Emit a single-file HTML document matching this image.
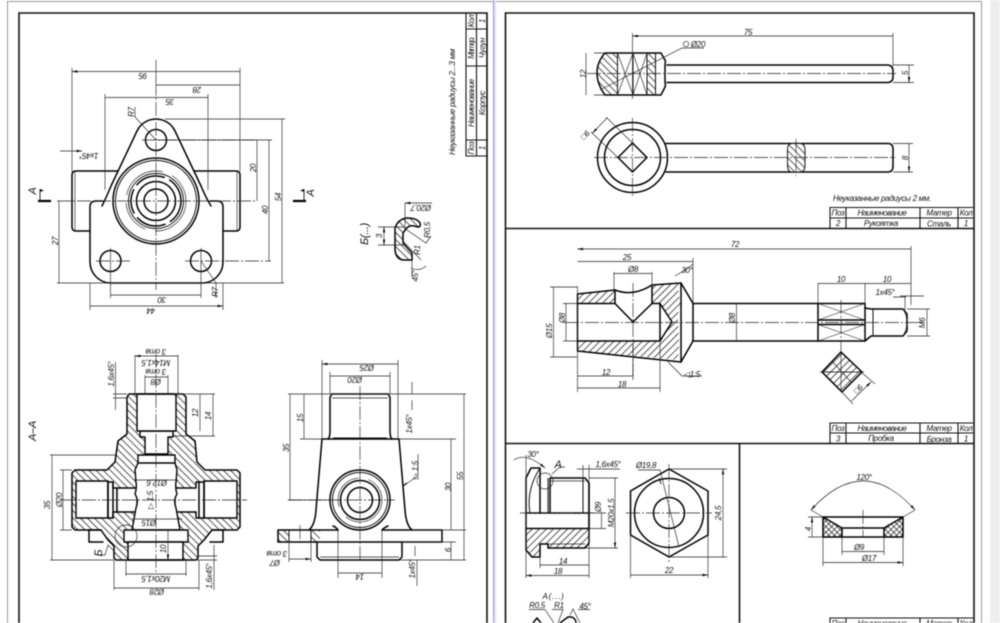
<!DOCTYPE html>
<html><head><meta charset="utf-8"><title>Чертежи</title>
<style>
html,body{margin:0;padding:0;width:1000px;height:623px;overflow:hidden;background:#fff}
svg{display:block;filter:blur(.4px)}
text{font-family:"Liberation Sans","DejaVu Sans",sans-serif;font-style:italic;font-size:8px;fill:#111;text-anchor:middle;letter-spacing:-.3px}
.k{fill:none;stroke:#000;stroke-width:1.5;stroke-linejoin:round;stroke-linecap:round}
.m{fill:none;stroke:#111;stroke-width:1}
.t{fill:none;stroke:#222;stroke-width:.65}
.d{fill:none;stroke:#222;stroke-width:.65;marker-start:url(#a);marker-end:url(#a)}
.c{fill:none;stroke:#222;stroke-width:.65;stroke-dasharray:14 2 2 2}
.h1{fill:url(#h1);stroke:none}
.h2{fill:url(#h2);stroke:none}
.w{fill:#fff;stroke:#000;stroke-width:1.4;stroke-linejoin:round}
.lg{font-size:11px}
</style></head><body>
<svg width="1000" height="623" viewBox="0 0 1000 623" xmlns="http://www.w3.org/2000/svg">
<defs>
<marker id="a" markerWidth="6" markerHeight="4" refX="5.5" refY="2" orient="auto-start-reverse" markerUnits="userSpaceOnUse"><path d="M0,.8L6,2L0,3.2z" fill="#111"/></marker>
<pattern id="h1" width="5" height="5" patternUnits="userSpaceOnUse" patternTransform="rotate(-45)"><rect width="5" height="5" fill="#fff"/><rect width=".75" height="5" fill="#222"/></pattern>
<pattern id="h2" width="5" height="5" patternUnits="userSpaceOnUse" patternTransform="rotate(45)"><rect width="5" height="5" fill="#fff"/><rect width=".75" height="5" fill="#222"/></pattern>
<pattern id="x" width="4" height="4" patternUnits="userSpaceOnUse" patternTransform="rotate(45)"><rect width="4" height="4" fill="#fff"/><rect width=".7" height="4" fill="#222"/><rect width="4" height=".7" fill="#222"/></pattern>
</defs>

<!-- page chrome -->
<rect x="990" y="0" width="10" height="623" fill="#eee"/>
<path d="M7.5,623V1.5H493M493,1.5H981.5V623" fill="none" stroke="#999" stroke-width="1"/>
<rect x="493" y="0" width="1.2" height="623" fill="#8f96e6"/>
<rect x="494.2" y="0" width="2" height="623" fill="#e4e6fa"/>

<!-- LEFT SHEET -->
<path d="M19,623V13H487V623" fill="none" stroke="#111" stroke-width="1.6"/>
<path d="M466,13V156H487M476.5,13V156M466,29H487M466,66H487M466,140H487" fill="none" stroke="#111" stroke-width="1.1"/>
<g>
<text transform="translate(474,148) rotate(-90)">Поз</text>
<text transform="translate(474,103) rotate(-90)" textLength="48">Наименование</text>
<text transform="translate(474,48) rotate(-90)" textLength="22">Матер.</text>
<text transform="translate(474,21) rotate(-90)">Кол</text>
<text transform="translate(485,148) rotate(-90)">1</text>
<text transform="translate(485,103) rotate(-90)">Корпус</text>
<text transform="translate(485,48) rotate(-90)">Чугун</text>
<text transform="translate(485,21) rotate(-90)">1</text>
<text transform="translate(455,102) rotate(-90)" textLength="106" lengthAdjust="spacing">Неуказанные радиусы 2...3 мм</text>
</g>

<!-- top view -->
<g>
<path class="k" d="M103,201H96Q90,201 90,207V262A21,21 0 0 0 111,283H202A21,21 0 0 0 223,262V207Q223,201 217,201H210"/>
<path class="k" d="M102,206Q106,198 111,186L137,131A21,21 0 0 1 175,131L201,186Q206,198 211,206"/>
<path class="k" d="M118,171H76Q72,171 72,175V227Q72,231 76,231H90M194,171H236Q240,171 240,175V227Q240,231 236,231H223"/>
<path class="t" d="M75,172V230M237,172V230"/>
<circle class="k" cx="156" cy="201" r="43"/>
<circle class="m" cx="156" cy="201" r="40.5" stroke-width="1.2"/>
<circle class="t" cx="156" cy="201" r="30" stroke-dasharray="48 10 34 8"/>
<circle class="m" cx="156" cy="201" r="27.5"/>
<circle class="k" cx="156" cy="201" r="25" stroke-dasharray="24 6 30 6"/>
<circle class="k" cx="156" cy="201" r="19.5" stroke-width="1.2"/>
<circle class="k" cx="156" cy="201" r="12"/>
<circle class="k" cx="156" cy="140" r="10.5"/>
<circle class="k" cx="110.5" cy="261" r="10.5"/>
<circle class="k" cx="201" cy="261" r="10.5"/>
<path class="c" d="M57,201H255M156,82V290M142,140H255M96,261H130M185,261H271"/>
<path class="t" d="M110.5,248V298M201,248V298M72,172V68M240,171V68M105,190V94M208,190V94M156,82V60M90,283V310M223,283V310M57,283H284M165,119H285M156,140H272"/>
<path class="d" d="M72,71.5H240M156,85H240M105,97.5H208M282,119V283M269,140V261M257,140V201M59,201V283M110.5,295H201M90,306H223"/>
<path class="t" d="M60,151H72M72,151H82" marker-end="url(#a)"/>
<path class="t" d="M135,107V117L156,140M201,261L216,283V298"/>
<text transform="rotate(180 143 73)" x="143" y="73">95</text>
<text transform="rotate(180 197 87)" x="197" y="87">28</text>
<text transform="rotate(180 170 99)" x="170" y="99">35</text>
<text transform="rotate(180 89 153)" x="89" y="153">1х45°</text>
<text transform="rotate(180 162 297)" x="162" y="297">30</text>
<text transform="rotate(180 151 308)" x="151" y="308">44</text>
<text transform="translate(134,112) rotate(-90)">R7</text>
<text transform="translate(218,292) rotate(-90)">R7</text>
<text transform="translate(256,168) rotate(-90)">20</text>
<text transform="translate(268,210) rotate(-90)">40</text>
<text transform="translate(281,197) rotate(-90)">54</text>
<text transform="translate(58,241) rotate(-90)">27</text>
<path d="M38,201H51M293,201H306" stroke="#000" stroke-width="2.2" fill="none"/>
<path d="M40,201V189M304,201V189" fill="none" stroke="#111" stroke-width=".9"/>
<path d="M40,189l4,1.5l-4,1.5zM304,189l-4,1.5l4,1.5z" fill="#111"/>
<text class="lg" transform="translate(36,191) rotate(-90)">А</text>
<text class="lg" transform="translate(314,193) rotate(-90)">А</text>
</g>

<!-- Detail B -->
<g>
<path class="h1" d="M395,228Q398,219 407,218Q417,218 420,223Q421,227 418,227L414,226Q409,225 406,229L403,233V243L412,253V260H403Q396,259 395,250Z"/>
<path class="k" d="M395,228Q398,219 407,218Q417,218 420,223Q421,227 418,227L414,226Q409,225 406,229L403,233V243L412,253V260H403Q396,259 395,250Z"/>
<path class="t" d="M404,227H378M404,245H378M405,227V203M412,260V277M404,228L426,243L431,236M403,241L421,260M411,268Q419,272 426,266"/>
<path class="d" d="M384,227V245"/>
<path class="t" d="M405,203H432" marker-start="url(#a)"/>
<text class="lg" transform="translate(368,234) rotate(-90)" textLength="22">Б(...)</text>
<text transform="translate(382,236) rotate(-90)">3</text>
<text transform="rotate(180 421 205)" x="421" y="205">Ø20,7</text>
<text transform="translate(430,230) rotate(-90)">R0,5</text>
<text transform="translate(420,250) rotate(-90)">R1</text>
<text transform="translate(418,276) rotate(-90)">45°</text>
</g>

<!-- Section A-A -->
<g>
<path class="h1" d="M129,394H183L186,397V434L195,441L197,462L205,470H237L240,473V527L237,530H212L204,540L198,546V558L196,560H116L114,558V546L108,540L101,530H75L72,527V473L75,470H107L115,462L118,441L127,434V397Z"/>
<path class="w" d="M140,431H173V437H168V454H145V437H140Z"/>
<path class="w" d="M137,394H175L176,396V431H137V396Z"/>
<path class="w" d="M76,481H108V518H76Z"/>
<path class="w" d="M108,482H113V488H117V512H113V518H108Z" />
<path class="w" d="M117,488H137V512H117Z"/>
<path class="w" d="M204,481H237V518H204Z"/>
<path class="w" d="M196,482H204V518H196V512H175V488H196Z"/>
<path class="w" d="M138,455H175V463L177,470L176,482Q175,488 177,494Q173,500 176,508L180,530H132L136,508Q139,500 135,494Q137,488 136,482L135,470L138,463Z"/>
<path class="w" d="M124,530H188V542H124Z"/>
<path class="w" d="M128,542H183V560H128Z"/>
<path class="k" d="M129,394H183L186,397V434L195,441L197,462L205,470H237L240,473V527L237,530H212L204,540L198,546V558L196,560H116L114,558V546L108,540L101,530H75L72,527V473L75,470H107L115,462L118,441L127,434V397Z"/>
<path class="k" d="M89,530V542H103M223,530V542H210M224,530H212M88,530H101M138,463H175M108,482V518M113,482V518M199,482V518M204,482V518"/>
<circle class="t" cx="126" cy="536" r="11"/>
<path class="c" d="M156,354V572M62,500H247"/>
<path class="t" d="M135,395V355M178,395V355M145,395V375M168,395V375M174,394H215M174,436H215M113,394H127M113,398H127M115.5,362V410M116,455H50M72,470H60M72,530H60M50,560H114M114,560V590M199,560V590M126,560V576M186,560V576M197,556H217M197,560H217M214,545V590M115,552L108,545L105,555H100"/>
<path class="d" d="M135,356H178M145,377H168M52,455V560M63,470V530M200,394V431M213,394V436M126,574H186M114,588H199M134,480H178M132,519H182M168,530V560"/>
<text transform="rotate(180 156 349)" x="156" y="349" font-size="7">3 отв</text>
<text transform="rotate(180 156 360)" x="156" y="360">М14х1,5</text>
<text transform="rotate(180 156 369)" x="156" y="369" font-size="7">3 отв</text>
<text transform="rotate(180 156 379)" x="156" y="379">Ø8</text>
<text transform="translate(114,374) rotate(-90)">1,6х45°</text>
<text transform="translate(198,413) rotate(-90)">12</text>
<text transform="translate(211,416) rotate(-90)">14</text>
<text class="lg" transform="translate(36,431) rotate(-90)" textLength="20">А–А</text>
<text transform="translate(50,505) rotate(-90)">35</text>
<text transform="translate(62,500) rotate(-90)">Ø20</text>
<text transform="rotate(180 157 480)" x="157" y="480">Ø12,6</text>
<text transform="rotate(180 149 520)" x="149" y="520">Ø15</text>
<text transform="translate(153,500) rotate(-90)">▷ 1:5</text>
<text class="lg" transform="translate(102,553) rotate(-90)">Б</text>
<text transform="translate(166,549) rotate(-90)">10</text>
<text transform="rotate(180 156 576)" x="156" y="576">М20х1,5</text>
<text transform="rotate(180 157 589)" x="157" y="589">Ø28</text>
<text transform="translate(212,576) rotate(-90)">1,6х45°</text>
</g>

<!-- Side elevation -->
<g>
<path class="k" d="M332,394H388L390,397V431Q390,437 392,439M330,397L332,394M330,397V431Q330,437 328,439"/>
<path class="k" d="M322,439H399L405,510Q406,525 412,530M322,439L316,510Q315,525 309,530"/>
<path class="h1" d="M278,530H289V542H278ZM311,530H320V542H311Z"/>
<path class="k" d="M278,530H338M382,530H442V542H278V530M317,542V557L320,560H399L402,557V542"/>
<path class="m" d="M289,530V542M311,530V542M333,438H387"/>
<path class="t" d="M332,398H388M320,557H399"/>
<path class="k" d="M338,530Q336,527 333,526M382,530Q385,527 388,526"/>
<circle cx="360" cy="500" r="30" fill="#fff" stroke="#000" stroke-width="1.5"/>
<circle class="m" cx="360" cy="500" r="27.5"/>
<circle class="t" cx="360" cy="500" r="22" stroke-dasharray="50 12 40 10"/>
<circle class="k" cx="360" cy="500" r="19.5" stroke-width="1.1"/>
<circle class="k" cx="360" cy="500" r="12.5"/>
<path class="c" d="M360,386V560M288,500H395"/>
<path class="c" d="M300,525V545"/>
<path class="t" d="M322,439V360M398,439V360M330,394V372M390,394V372M288,394H466M300,439H322M399,439H456M288,500H330M412,530H466M400,560H466M402,542H456M338,530V578M382,530V578M289,542V562M311,542V562M412,382V394M412,400V410M417,560V586M415,546V556"/>
<path class="d" d="M322,364H398M330,376H390M304,394V439M290,394V500M451,439V530M464,394V560M451,542V560M338,573H382M289,559H311"/>
<path class="t" d="M403,486L418,476V454"/>
<path d="M403,486l4,-3" stroke="#111" stroke-width="1.3"/>
<text transform="rotate(180 367 365)" x="367" y="365">Ø25</text>
<text transform="rotate(180 355 377)" x="355" y="377">Ø20</text>
<text transform="translate(303,418) rotate(-90)">15</text>
<text transform="translate(289,448) rotate(-90)">35</text>
<text transform="translate(451,487) rotate(-90)">30</text>
<text transform="translate(463,476) rotate(-90)">55</text>
<text transform="translate(451,550) rotate(-90)">6</text>
<text transform="rotate(180 360 574)" x="360" y="574">14</text>
<text transform="translate(412,424) rotate(-90)">1х45°</text>
<text transform="translate(415,569) rotate(-90)">1х45°</text>
<text transform="translate(418,470) rotate(-90)">▷ 1:5</text>
<text transform="rotate(180 275 560)" x="275" y="560">Ø7</text>
<text font-size="7" transform="rotate(180 277 551)" x="277" y="551">3 отв</text>
</g>

<!-- RIGHT SHEET -->
<path d="M505.5,623V13H974V623M505.5,228.5H974M505.5,443.5H974M739.5,443.5V623" fill="none" stroke="#111" stroke-width="1.6"/>

<!-- Handle side -->
<g>
<path class="h1" d="M605,53H617.5V95H605Q597,84 597,73Q597,62 605,53Z"/>
<path class="h1" d="M647,53H655.5V95H647Z"/>
<path class="k" d="M605,53H661L665.5,61Q665,63 665,66V81Q665,84 665.5,86L661,95H605Q597,84 597,73Q597,62 605,53Z"/>
<path class="k" d="M667,65H887Q893,65 893,71V77Q893,82.5 887,82.5H667"/>
<path class="m" d="M617.5,53V95M647,53V95M655.5,53V95"/>
<path class="m" d="M633,53V95"/>
<path class="t" d="M617.5,53L633,95M633,53L617.5,95M633,53L647,95M647,53L633,95"/>
<path class="c" d="M587,73.5H896"/>
<path class="t" d="M632.5,99V33M893,66V33M594,53H605M594,95H605M893,65H914M893,82.5H914M600,90L682,48H704"/>
<path class="d" d="M632.5,36H893M586,53V95M909,65V82.5"/>
<text x="748" y="35">75</text>
<circle class="t" cx="686" cy="44" r="2.7"/>
<text x="698" y="47">Ø20</text>
<text transform="translate(586,74) rotate(-90)">12</text>
<text transform="translate(908,73) rotate(-90)">5</text>
</g>
<!-- Handle plan -->
<g>
<circle class="k" cx="632.5" cy="157.5" r="35"/>
<circle class="k" cx="632.5" cy="157.5" r="28"/>
<path class="k" d="M632.5,143L647,157.5L632.5,172L618,157.5Z"/>
<path class="k" d="M666,143.5H888Q893,143.5 893,149V166Q893,172 888,172H666"/>
<path class="h1" d="M792,143.5H800Q805,143.5 805,150V165Q805,172 800,172H792Q787.5,172 787.5,165V150Q787.5,143.5 792,143.5Z"/>
<path class="m" d="M792,143.5H800Q805,143.5 805,150V165Q805,172 800,172H792Q787.5,172 787.5,165V150Q787.5,143.5 792,143.5Z"/>
<path class="c" d="M594,157.5H895M632.5,118V197M796,139V176"/>
<path class="t" d="M618,157.5L591,132M632.5,143L606,117M893,143.5H913M893,172H913"/>
<path class="d" d="M592.5,133L607,118M909,143.5V172"/>
<text transform="translate(587,137) rotate(-45)">□6</text>
<text transform="translate(908,158) rotate(-90)">8</text>
<text x="882" y="201" textLength="98" font-size="8.5">Неуказанные радиусы 2 мм.</text>
<path d="M830,228V207.5H973M830,218H973M846,207.5V228M920,207.5V228M958,207.5V228" fill="none" stroke="#111" stroke-width="1.1"/>
<text x="838" y="215.5">Поз</text><text x="882" y="215.5" textLength="49">Наименование</text><text x="939" y="215.5">Матер</text><text x="966" y="215.5">Кол</text>
<text x="838" y="226">2</text><text x="881" y="226">Рукоятка</text><text x="939" y="226.5">Сталь</text><text x="966" y="226">1</text>
</g>

<!-- Plug -->
<g>
<path class="h2" d="M577.5,294L615,290V303.5H577.5Z"/>
<path class="h2" d="M652,285L678,283Q678,296 681,303Q677,312 678,325Q680,345 678,360L577.5,351V341H660L672,322L660,303H652Z"/>
<path class="k" d="M577.5,294L615,290Q633,297 652,285L681,283L693,303.5V341L681,362L577.5,351V294Z"/>
<path class="k" d="M577.5,303.5H615L633,322L652,303.5H660L672,322L660,341H577.5M615,290V303.5M652,285V303.5M660,303.5V341M681,283V362"/>
<path class="k" d="M693,303.5H818M693,341H818"/>
<path class="k" d="M818,303.5H865V341H818ZM818,320H865M818,324.5H865"/>
<path class="t" d="M818,303.5L865,320M865,303.5L818,320M818,324.5L865,341M865,324.5L818,341"/>
<path class="k" d="M865,308L871,309H903L907,314V331L903,336H871L865,341" stroke-width="1.2"/>
<path class="m" d="M873,309V336"/>
<path class="t" d="M903,309Q911,322 903,336"/>
<path class="c" d="M565,322.5H925M633,283V376M841,300V352"/>
<path d="M841,352L862,372L842,392L822,372Z" class="h2"/>
<path class="k" d="M841,352L862,372L842,392L822,372Z"/>
<path class="t" d="M822,372H862M841,352V392M832,361L851,382"/>
<path class="c" d="M820,372H864"/>
<path class="t" d="M577.5,286V392M693,258V303M911,246V305M818,283V303M865,283V303M614,272V292M652,272V286M660,341V392M633,345V380M550,287H577M550,357H577M563,303.5H577M563,341H577M905,296V310M900,296H924M893,297H906M907,309H930M907,336H930M861,372L875,384M842,392L853,404"/>
<path class="d" d="M577.5,249H911M577.5,261.5H693M614,273.5H652M553.5,287V357M566,303.5V341M736.5,303.5V341M818,283.5H865M865,283.5H911M577.5,376H633M577.5,388H660M927,309V336M851.5,401L871,382"/>
<path class="t" d="M675,276Q687,269 693,264M668,362L682,376H702"/>
<text x="735" y="247">72</text>
<text x="627" y="260">25</text>
<text x="633" y="272">Ø8</text>
<text x="687" y="273">30°</text>
<text x="841" y="282">10</text>
<text x="887" y="282">10</text>
<text x="885" y="295">1х45°</text>
<text transform="translate(552,331) rotate(-90)">Ø15</text>
<text transform="translate(565,318) rotate(-90)">Ø8</text>
<text transform="translate(735,318) rotate(-90)">Ø8</text>
<text transform="translate(925,323) rotate(-90)">М6</text>
<text x="606" y="375">12</text>
<text x="622" y="387">18</text>
<text x="692" y="377" font-size="8.5">◁1:5</text>
<text transform="translate(860,391) rotate(-45)">□6</text>
<path d="M830,443V423H973M830,433H973M846,423V443M920,423V443M958,423V443" fill="none" stroke="#111" stroke-width="1.1"/>
<text x="838" y="431">Поз</text><text x="882" y="431" textLength="49">Наименование</text><text x="939" y="431">Матер</text><text x="966" y="431">Кол</text>
<text x="838" y="441.5">3</text><text x="881" y="441">Пробка</text><text x="939" y="442">Бронза</text><text x="966" y="441.5">1</text>
</g>

<!-- Nut -->
<g>
<path class="h2" d="M526,528.5H589V543L585,548H548V544H540V557H532L526,550Z"/>
<path class="k" d="M526,478L531,468H540V513M526,478V550L532,557H540V544H548V548H585L589,543V483L585,478H550V513M526,513V528.5"/>
<path class="k" d="M526,528.5H589M589,483V528.5M526,513H589" stroke-width="1"/>
<path class="m" d="M583,478V513M540,468Q526,490 530,513M548,478V513"/>
<path class="t" d="M550,481H585M548,544H585"/>
<circle class="t" cx="545" cy="481" r="8"/>
<path class="c" d="M520,513H594"/>
<path class="t" d="M526,455V578M589,478V578M540,557V568M589,478H618M585,548H618M589,528.5H606M589,513H606M583,465V478M589,465V478M552,474L560,467H565M577,469H620"/>
<path class="t" d="M514,460Q526,452 545,468" marker-end="url(#a)"/>
<path class="d" d="M526,575.5H589M540,565H589M601.5,513V528.5M615,478V548"/>
<text x="533" y="457">30°</text>
<text class="lg" x="558" y="468">А</text>
<text x="608" y="467">1,6х45°</text>
<text transform="translate(601,507) rotate(-90)">Ø9</text>
<text transform="translate(614,513) rotate(-90)">М20х1,5</text>
<text x="563" y="564">14</text>
<text x="558" y="574">18</text>
<text x="553" y="599" font-size="11" textLength="21">А(...)</text>
<path class="t" d="M529,609.5H545L554,623M552,609.5H563L558,623M578,609.5H590M570,615L573,609L580,623"/>
<text x="537" y="608">R0,5</text><text x="559" y="608">R1</text><text x="585" y="609">45°</text>
<path class="k" d="M533,623L537,618L541,623M560,623L568,617H572Q576,619 576,623" stroke-width="1.1"/>
</g>
<!-- Hex -->
<g>
<path class="k" d="M669,469L708,491V535L669,557L630.5,535V491Z"/>
<circle class="k" cx="669" cy="513" r="34.5"/>
<circle class="k" cx="669" cy="513" r="15.5"/>
<path class="c" d="M626,513H712M669,464V562"/>
<path class="t" d="M638,470H660L679,547M669,469H727M669,557H727M630.5,535V578M708,535V578"/>
<path class="d" d="M723,469V557M630.5,575H708"/>
<path d="M659,478L661,484" stroke="#111" stroke-width=".9"/>
<text x="646" y="468">Ø19,8</text>
<text transform="translate(721,513) rotate(-90)">24,5</text>
<text x="669" y="573">22</text>
</g>
<!-- Gasket -->
<g>
<path d="M823,517L842,528V537H823Z" fill="url(#x)"/>
<path d="M903,517L884,528V537H903Z" fill="url(#x)"/>
<path class="k" d="M823,517H903V537H823ZM823,517L842,528V537M903,517L884,528V537M842,528H884"/>
<path class="c" d="M863,510V537"/>
<path class="t" d="M823,537V566M903,537V566M842,537V555M884,537V555M808,517H823M808,537H823M811,510L823,517M915,510L903,517"/>
<path class="d" d="M812,517V537M842,551.5H884M823,562.5H903"/>
<path class="t" d="M811,510Q863,452 915,510" marker-start="url(#a)" marker-end="url(#a)"/>
<text x="864" y="480">120°</text>
<text transform="translate(811,529) rotate(-90)">4</text>
<text x="859" y="550">Ø9</text>
<text x="869" y="561">Ø17</text>
<path d="M830,623V618H973M846,618V623M920,618V623M958,618V623" fill="none" stroke="#111" stroke-width="1.1"/>
<text x="838" y="626">Поз</text><text x="882" y="626" textLength="49">Наименование</text><text x="939" y="626">Матер</text><text x="966" y="626">Кол</text>
</g>
</svg>
</body></html>
